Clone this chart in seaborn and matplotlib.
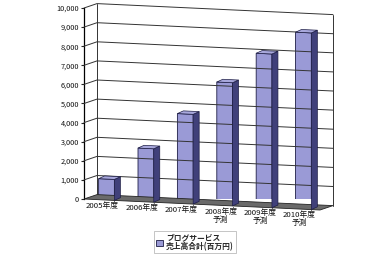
import numpy as np
import matplotlib
matplotlib.use("Agg")
import matplotlib.pyplot as plt
from matplotlib.transforms import Affine2D, IdentityTransform, offset_copy
from matplotlib.patches import Polygon
from matplotlib.lines import Line2D
import seaborn as sns

# ---- data ----
categories = ["2005年度", "2006年度", "2007年度", "2008年度\n予測", "2009年度\n予測", "2010年度\n予測"]
values = [1100, 2800, 4700, 6450, 8050, 9250]
y_ticks = [0, 1000, 2000, 3000, 4000, 5000, 6000, 7000, 8000, 9000, 10000]
y_tick_labels = ["0", "1,000", "2,000", "3,000", "4,000", "5,000", "6,000", "7,000", "8,000", "9,000", "10,000"]
series_label = "ブログサービス\n売上高合計(百万円)"

# ---- style ----
sns.set_style("white")
plt.rcParams['font.family'] = ['Noto Sans CJK JP', 'DejaVu Sans']

FRONT = "#9a9ad6"
SIDE = "#40407a"
TOP = "#a8a8dc"
EDGE = "#1c1c44"
FLOOR = "#6a6a6a"
LINE = "#333333"

W, H, DPI = 390, 254, 100
fig = plt.figure(figsize=(W / DPI, H / DPI), dpi=DPI)
x0_px, x1_px = 84, 320
ax = fig.add_axes([x0_px / W, (H - 199) / H, (x1_px - x0_px) / W, 191 / H])
ax.set_facecolor("none")

sns.barplot(x=categories, y=values, width=0.4, color=FRONT, edgecolor=EDGE,
            linewidth=0.6, saturation=1, ax=ax, zorder=5, label=series_label)

xlim = (-0.571, 5.42)
ax.set_xlim(*xlim)
ax.set_ylim(0, 10000)

# perspective-like skew (display coords): lines fall to the right
k = 11 / 236
S = Affine2D(np.array([[1, 0, 0], [-k, 1, k * x0_px], [0, 0, 1]]))

WALL_D = (13, 5)
BAR_D = (6, 3)


def proj(x, y, d=(0, 0)):
    p = ax.transData.transform((x, y)) + np.array(d, dtype=float)
    return S.transform(p)


ident = IdentityTransform()

# back wall + side wall gridlines
for v in y_ticks[1:]:
    pts = np.array([proj(xlim[0], v), proj(xlim[0], v, WALL_D), proj(xlim[1], v, WALL_D)])
    fig.add_artist(Line2D(pts[:, 0], pts[:, 1], transform=ident, color=LINE, lw=0.7, zorder=1))
for xe in xlim:
    pts = np.array([proj(xe, 0, WALL_D), proj(xe, 10000, WALL_D)])
    fig.add_artist(Line2D(pts[:, 0], pts[:, 1], transform=ident, color=LINE, lw=0.7, zorder=1))

# floor
floor = Polygon([proj(xlim[0], 0), proj(xlim[1], 0), proj(xlim[1], 0, WALL_D), proj(xlim[0], 0, WALL_D)],
                closed=True, transform=ident, facecolor=FLOOR, edgecolor="#222222", lw=0.6, zorder=2)
fig.add_artist(floor)

# bars: skew the front faces, add side and top faces
for p in ax.patches:
    p.set_transform(ax.transData + S)
    p.set_zorder(5)
    bx0, bw, bh = p.get_x(), p.get_width(), p.get_height()
    bx1 = bx0 + bw
    side = Polygon([proj(bx1, 0), proj(bx1, bh), proj(bx1, bh, BAR_D), proj(bx1, 0, BAR_D)],
                   closed=True, transform=ident, facecolor=SIDE, edgecolor=EDGE, lw=0.5, zorder=4)
    top = Polygon([proj(bx0, bh), proj(bx1, bh), proj(bx1, bh, BAR_D), proj(bx0, bh, BAR_D)],
                  closed=True, transform=ident, facecolor=TOP, edgecolor=EDGE, lw=0.5, zorder=4)
    fig.add_artist(side)
    fig.add_artist(top)

# axes decoration
for s in ["top", "right", "bottom"]:
    ax.spines[s].set_visible(False)
ax.spines["left"].set_color("black")
ax.spines["left"].set_linewidth(0.9)
ax.set_yticks(y_ticks)
ax.set_yticklabels(y_tick_labels, fontsize=5.3, color="#111111")
ax.tick_params(axis="y", length=2.5, width=0.8, pad=1, direction="out", left=True)
ax.set_xticks([])
ax.set_xlabel("")
ax.set_ylabel("")

# category labels along the sloped floor edge
lab_tr = offset_copy(ax.transData + S, fig=fig, x=-4, y=-2, units="dots")
for i, c in enumerate(categories):
    ax.text(i, 0, c, transform=lab_tr, ha="center", va="top", fontsize=5.6,
            linespacing=1.0, color="#111111", clip_on=False)

leg = ax.legend(loc="center", bbox_to_anchor=(0.5, 0.047), bbox_transform=fig.transFigure,
                fontsize=5.6, frameon=True, fancybox=False, handlelength=0.8, handleheight=0.8,
                handletextpad=0.4, borderpad=0.3, labelspacing=0.1)
leg.get_frame().set_edgecolor("#999999")
leg.get_frame().set_linewidth(0.5)
for t in leg.get_texts():
    t.set_linespacing(1.0)
    t.set_fontweight("bold")

fig.savefig("out.png", dpi=DPI)
